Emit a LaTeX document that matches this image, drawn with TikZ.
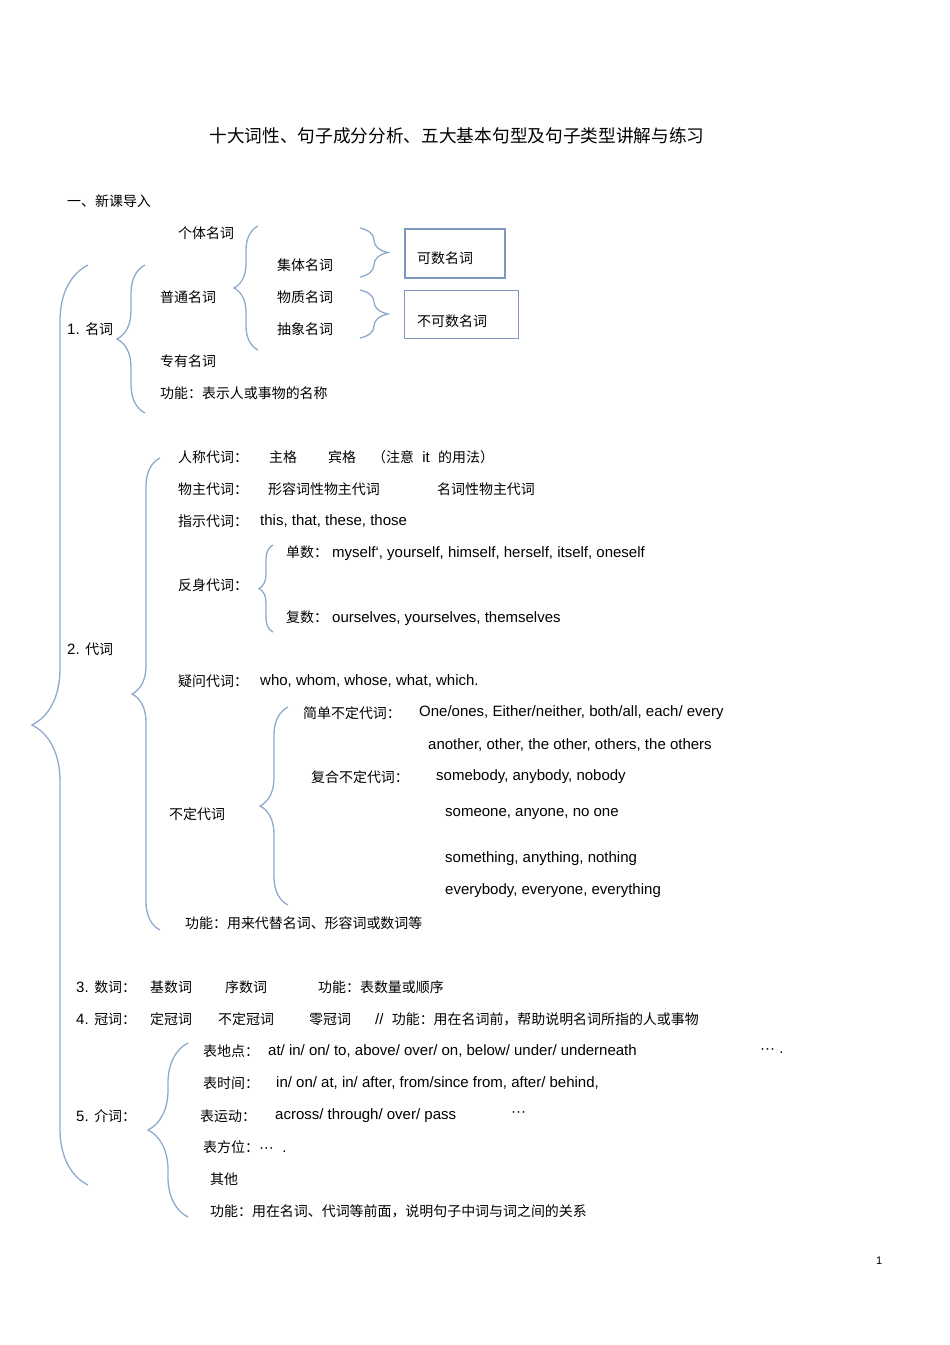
\documentclass[tikz,border=0pt]{standalone}
\usepackage{fontspec}
\setmainfont{Liberation Sans}
\newfontfamily\cjk[Scale=0.93]{Noto Sans CJK SC}
\usetikzlibrary{decorations.pathreplacing}
\begin{document}
\begin{tikzpicture}[x=1pt,y=-1pt,
  t/.style={anchor=west,inner sep=0pt,font=\fontsize{15}{17}\selectfont},
  br/.style={draw=brc,line width=1.3pt,decorate,decoration={brace,amplitude=#1}},
  bx/.style={draw=boxc,anchor=north west,inner sep=0pt}]
\definecolor{brc}{HTML}{8FA9CC}
\definecolor{boxc}{HTML}{7E97BE}
\useasboundingbox (0,0) rectangle (950,1345);
% title
\node[t,anchor=center,font=\fontsize{19}{21}\selectfont] (title) at (457,136) {\cjk 十大词性、句子成分分析、五大基本句型及句子类型讲解与练习};
\node[t] (intro) at (67,201) {\cjk 一、新课导入};
% braces (tip left: draw bottom->top)
\draw[br=56pt] (88,1185) -- (88,265);
\draw[br=28pt] (145,413) -- (145,265);
\draw[br=24pt] (258,350) -- (258,226);
\draw[br=28pt] (160,930) -- (160,458);
\draw[br=14pt] (273,632) -- (273,545);
\draw[br=28pt] (288,905) -- (288,707);
\draw[br=40pt] (188,1217) -- (188,1043);
\draw[br=28pt] (360,228) -- (360,277);
\draw[br=28pt] (360,290) -- (360,338);
% boxes
\node[bx,line width=1.6pt,minimum width=100pt,minimum height=49pt] (cnt) at (404,228) {};
\node[t] (cntt) at (417,258) {\cjk 可数名词};
\node[bx,line width=0.9pt,minimum width=114pt,minimum height=48pt] (unc) at (404,290) {};
\node[t] (unct) at (417,321) {\cjk 不可数名词};
% nouns
\node[t] (n1) at (178,233) {\cjk 个体名词};
\node[t] (n2) at (277,265) {\cjk 集体名词};
\node[t] (n3) at (160,297) {\cjk 普通名词};
\node[t] (n4) at (277,297) {\cjk 物质名词};
\node[t] (n5) at (67,329) {1. {\cjk 名词}};
\node[t] (n6) at (277,329) {\cjk 抽象名词};
\node[t] (n7) at (160,361) {\cjk 专有名词};
\node[t] (n8) at (160,393) {\cjk 功能：表示人或事物的名称};
% pronouns
\node[t] (p1) at (178,457) {\cjk 人称代词：};
\node[t] (p1a) at (269,457) {\cjk 主格};
\node[t] (p1b) at (328,457) {\cjk 宾格};
\node[t] (p1c) at (372,457) {{\cjk （注意} \ it \ {\cjk 的用法）}};
\node[t] (p2) at (178,489) {\cjk 物主代词：};
\node[t] (p2a) at (268,489) {\cjk 形容词性物主代词};
\node[t] (p2b) at (437,489) {\cjk 名词性物主代词};
\node[t] (p3) at (178,521) {\cjk 指示代词：};
\node[t] (p3a) at (260,521) {this, that, these, those};
\node[t] (p4a) at (286,553) {{\cjk 单数：}\ myself`, yourself, himself, herself, itself, oneself};
\node[t] (p4) at (178,585) {\cjk 反身代词：};
\node[t] (p4b) at (286,618) {{\cjk 复数：}\ ourselves, yourselves, themselves};
\node[t] (p0) at (67,649) {2. {\cjk 代词}};
\node[t] (p5) at (178,681) {\cjk 疑问代词：};
\node[t] (p5a) at (260,681) {who, whom, whose, what, which.};
\node[t] (p6a) at (303,713) {\cjk 简单不定代词：};
\node[t] (p6b) at (419,713) {One/ones, Either/neither, both/all, each/ every};
\node[t] (p6c) at (428,745) {another, other, the other, others, the others};
\node[t] (p6d) at (311,777) {\cjk 复合不定代词：};
\node[t] (p6e) at (436,777) {somebody, anybody, nobody};
\node[t] (p6) at (169,814) {\cjk 不定代词};
\node[t] (p6f) at (445,814) {someone, anyone, no one};
\node[t] (p6g) at (445,859) {something, anything, nothing};
\node[t] (p6h) at (445,891) {everybody, everyone, everything};
\node[t] (p7) at (185,923) {\cjk 功能：用来代替名词、形容词或数词等};
% numerals / articles
\node[t] (m0) at (76,987) {3. {\cjk 数词：}};
\node[t] (m1) at (150,987) {\cjk 基数词};
\node[t] (m2) at (225,987) {\cjk 序数词};
\node[t] (m3) at (318,987) {\cjk 功能：表数量或顺序};
\node[t] (a0) at (76,1019) {4. {\cjk 冠词：}};
\node[t] (a1) at (150,1019) {\cjk 定冠词};
\node[t] (a2) at (218,1019) {\cjk 不定冠词};
\node[t] (a3) at (309,1019) {\cjk 零冠词};
\node[t] (a4) at (375,1019) {// \ {\cjk 功能：用在名词前，帮助说明名词所指的人或事物}};
% prepositions
\node[t] (r1) at (203,1051) {\cjk 表地点：};
\node[t] (r1a) at (268,1051) {at/ in/ on/ to, above/ over/ on, below/ under/ underneath};
\node[t] (r1b) at (760,1051) {\textperiodcentered\textperiodcentered\textperiodcentered\ .};
\node[t] (r2) at (203,1083) {\cjk 表时间：};
\node[t] (r2a) at (276,1083) {in/ on/ at, in/ after, from/since from, after/ behind,};
\node[t] (r0) at (76,1116) {5. {\cjk 介词：}};
\node[t] (r3) at (200,1116) {\cjk 表运动：};
\node[t] (r3a) at (275,1116) {across/ through/ over/ pass};
\node[t] (r3b) at (511,1114) {\textperiodcentered\textperiodcentered\textperiodcentered};
\node[t] (r4) at (203,1147) {{\cjk 表方位：}\textperiodcentered\textperiodcentered\textperiodcentered\ \ .};
\node[t] (r5) at (210,1179) {\cjk 其他};
\node[t] (r6) at (210,1211) {\cjk 功能：用在名词、代词等前面，说明句子中词与词之间的关系};
\node[t,font=\fontsize{11}{12}\selectfont] (pg) at (876,1261) {1};
\end{tikzpicture}
\end{document}
